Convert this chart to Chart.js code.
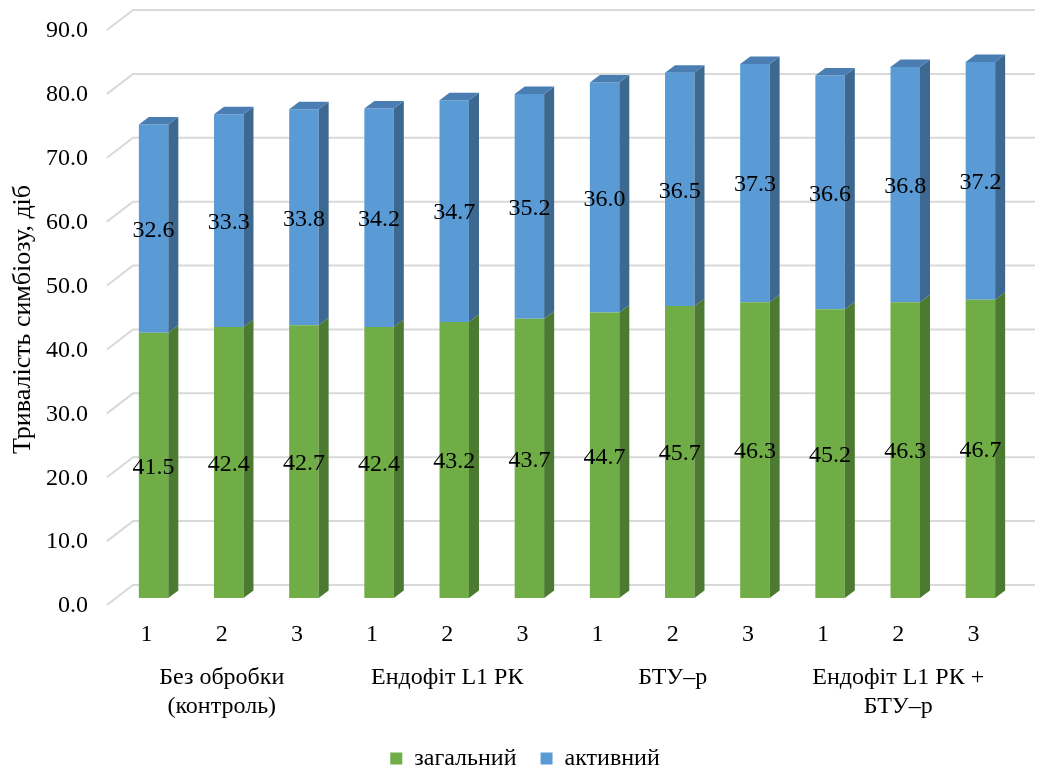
<!DOCTYPE html>
<html>
<head>
<meta charset="utf-8">
<script src="https://cdn.jsdelivr.net/npm/chart.js@4/dist/chart.umd.min.js"></script>
<style>
  html, body { margin: 0; padding: 0; background: #ffffff; }
</style>
</head>
<body>
<canvas id="chart" width="1037" height="771"></canvas>
<script>
// Repetition numbers under each bar and the treatment groups beneath them
const repetitions = ['1', '2', '3', '1', '2', '3', '1', '2', '3', '1', '2', '3'];
const treatments = [
  ['Без обробки', '(контроль)'],
  ['Ендофіт L1 РК'],
  ['БТУ–р'],
  ['Ендофіт L1 РК +', 'БТУ–р']
];

// Symbiosis duration, days
const totalDays  = [41.5, 42.4, 42.7, 42.4, 43.2, 43.7, 44.7, 45.7, 46.3, 45.2, 46.3, 46.7];
const activeDays = [32.6, 33.3, 33.8, 34.2, 34.7, 35.2, 36.0, 36.5, 37.3, 36.6, 36.8, 37.2];

const seriesNames = ['загальний', 'активний'];
const yAxisTitle = 'Тривалість симбіозу, діб';
const yMin = 0, yMax = 90, yStep = 10;

const FONT = 'Liberation Serif';
const FONT_SIZE = 24;
const TITLE_SIZE = 26;

const COLORS = {
  green: { face: '#70AD47', side: '#4C7A30', top: '#5E9439' },
  blue:  { face: '#5B9BD5', side: '#3D6890', top: '#4A7EB3' }
};

// Oblique depth of the 3D boxes and of the floor/back wall
const DEPTH_DX = 10, DEPTH_DY = -7.5;
const WALL = { frontDx: -9, frontDy: 7, backDx: 17, backDy: -13, rightExtra: 17 };

// Gridlines drawn as a floor edge plus back wall line
const wallGrid = {
  id: 'wallGrid',
  beforeDatasetsDraw(chart) {
    const { ctx, chartArea, scales } = chart;
    const y = scales.y;
    ctx.save();
    ctx.strokeStyle = '#d9d9d9';
    ctx.lineWidth = 2;
    y.ticks.forEach(t => {
      const py = y.getPixelForValue(t.value);
      ctx.beginPath();
      ctx.moveTo(chartArea.left + WALL.frontDx, py + WALL.frontDy);
      ctx.lineTo(chartArea.left + WALL.backDx, py + WALL.backDy);
      ctx.lineTo(chartArea.right + WALL.rightExtra, py + WALL.backDy);
      ctx.stroke();
    });
    ctx.restore();
  }
};

// Side and top faces for each bar, then the value labels
const boxFaces = {
  id: 'boxFaces',
  afterDatasetsDraw(chart) {
    const { ctx } = chart;
    const last = chart.data.datasets.length - 1;
    ctx.save();
    chart.data.datasets.forEach((ds, di) => {
      const meta = chart.getDatasetMeta(di);
      const pal = ds.palette;
      meta.data.forEach(el => {
        const half = el.width / 2;
        const xr = el.x + half, xl = el.x - half;
        ctx.fillStyle = pal.side;
        ctx.beginPath();
        ctx.moveTo(xr, el.y);
        ctx.lineTo(xr + DEPTH_DX, el.y + DEPTH_DY);
        ctx.lineTo(xr + DEPTH_DX, el.base + DEPTH_DY);
        ctx.lineTo(xr, el.base);
        ctx.closePath();
        ctx.fill();
        if (di === last) {
          ctx.fillStyle = pal.top;
          ctx.beginPath();
          ctx.moveTo(xl, el.y);
          ctx.lineTo(xl + DEPTH_DX, el.y + DEPTH_DY);
          ctx.lineTo(xr + DEPTH_DX, el.y + DEPTH_DY);
          ctx.lineTo(xr, el.y);
          ctx.closePath();
          ctx.fill();
        }
      });
    });
    ctx.fillStyle = '#000000';
    ctx.font = FONT_SIZE + 'px "' + FONT + '"';
    ctx.textAlign = 'center';
    ctx.textBaseline = 'middle';
    chart.data.datasets.forEach((ds, di) => {
      const meta = chart.getDatasetMeta(di);
      meta.data.forEach((el, i) => {
        ctx.fillText(ds.data[i].toFixed(1), el.x, (el.y + el.base) / 2 + 2);
      });
    });
    ctx.restore();
  }
};

// Rotated value-axis title
const axisTitle = {
  id: 'axisTitle',
  afterDraw(chart) {
    const { ctx, scales } = chart;
    const y = scales.y;
    const cy = (y.getPixelForValue(yMin) + y.getPixelForValue(yMax)) / 2 + 9;
    ctx.save();
    ctx.translate(23, cy);
    ctx.rotate(-Math.PI / 2);
    ctx.fillStyle = '#000000';
    ctx.font = TITLE_SIZE + 'px "' + FONT + '"';
    ctx.textAlign = 'center';
    ctx.textBaseline = 'middle';
    ctx.fillText(yAxisTitle, 0, 0);
    ctx.restore();
  }
};

Chart.defaults.font.family = FONT;
Chart.defaults.font.size = FONT_SIZE;
Chart.defaults.color = '#000000';

const LEGEND_PAD = 24;

new Chart(document.getElementById('chart'), {
  type: 'bar',
  data: {
    labels: repetitions,
    datasets: [
      { label: seriesNames[0], data: totalDays, backgroundColor: COLORS.green.face, palette: COLORS.green, borderWidth: 0 },
      { label: seriesNames[1], data: activeDays, backgroundColor: COLORS.blue.face, palette: COLORS.blue, borderWidth: 0 }
    ]
  },
  options: {
    responsive: false,
    animation: false,
    events: [],
    layout: { padding: { left: 32, right: 19, top: 23, bottom: -9.5 } },
    datasets: { bar: { categoryPercentage: 1, barPercentage: 0.392 } },
    scales: {
      x: {
        stacked: true,
        grid: { display: false, drawTicks: false },
        border: { display: false },
        ticks: { padding: 22.5, labelOffset: -7, maxRotation: 0, autoSkip: false, font: { size: FONT_SIZE, lineHeight: 1.2 } },
        afterFit(s) { s.height = 50; }
      },
      x2: {
        type: 'category',
        position: 'bottom',
        labels: treatments,
        offset: true,
        grid: { display: false, drawTicks: false },
        border: { display: false },
        ticks: { padding: 15.5, labelOffset: -7, maxRotation: 0, autoSkip: false, font: { size: FONT_SIZE, lineHeight: 1.21 } },
        afterFit(s) { s.height = 74.5; }
      },
      y: {
        stacked: true,
        min: yMin,
        max: yMax,
        grid: { display: false, drawTicks: false },
        border: { display: false },
        ticks: {
          stepSize: yStep,
          padding: 28,
          labelOffset: 8,
          callback: v => Number(v).toFixed(1)
        },
        afterFit(s) {
          s.width = 84;
          s.paddingTop = 0;
          s.paddingBottom = 0;
        }
      }
    },
    plugins: {
      legend: {
        position: 'bottom',
        labels: { boxWidth: 12, boxHeight: 12, padding: LEGEND_PAD, color: '#000000', font: { size: FONT_SIZE } }
      },
      tooltip: { enabled: false },
      title: { display: false }
    }
  },
  plugins: [wallGrid, boxFaces, axisTitle]
});
</script>
</body>
</html>
